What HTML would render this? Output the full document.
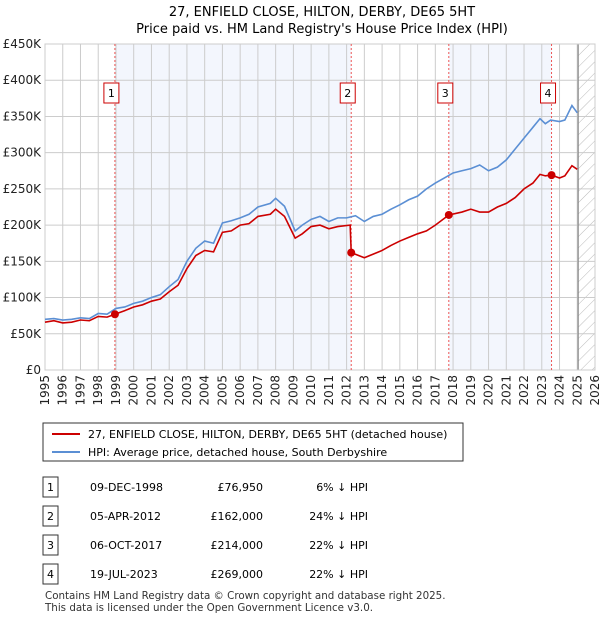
<!DOCTYPE html>
<html><head><meta charset="utf-8"><style>
body{margin:0;background:#fff;font-family:"Liberation Sans","DejaVu Sans",sans-serif;}
svg text{font-family:"DejaVu Sans","Liberation Sans",sans-serif;}
</style></head><body>
<svg width="600" height="620" xmlns="http://www.w3.org/2000/svg" id="chart">
<defs><pattern id="hatch" width="8" height="8" patternUnits="userSpaceOnUse" patternTransform="rotate(45)"><line x1="0" y1="0" x2="0" y2="8" stroke="#bbb" stroke-width="1"/></pattern></defs>
<text x="322" y="16" text-anchor="middle" font-size="13">27, ENFIELD CLOSE, HILTON, DERBY, DE65 5HT</text>
<text x="322" y="33" text-anchor="middle" font-size="13">Price paid vs. HM Land Registry's House Price Index (HPI)</text>
<g id="plot"></g>
<g>
<rect x="43" y="423" width="420" height="38" fill="#fff" stroke="#333" stroke-width="1"/>
<line x1="52" y1="434" x2="80" y2="434" stroke="#cc0000" stroke-width="2"/>
<text x="88" y="438" font-size="11">27, ENFIELD CLOSE, HILTON, DERBY, DE65 5HT (detached house)</text>
<line x1="52" y1="452" x2="80" y2="452" stroke="#5b8fd4" stroke-width="2"/>
<text x="88" y="456" font-size="11">HPI: Average price, detached house, South Derbyshire</text>
</g>
<g id="table" font-size="11"></g>
<text x="45" y="599" font-size="10.3" fill="#333">Contains HM Land Registry data © Crown copyright and database right 2025.</text>
<text x="45" y="611" font-size="10.3" fill="#333">This data is licensed under the Open Government Licence v3.0.</text>
</svg>
<script>
const hpiYears=[1995,1995.5,1996,1996.5,1997,1997.5,1998,1998.5,1999,1999.5,2000,2000.5,2001,2001.5,2002,2002.5,2003,2003.5,2004,2004.5,2005,2005.5,2006,2006.5,2007,2007.7,2008,2008.5,2009.1,2009.5,2010,2010.5,2011,2011.5,2012,2012.5,2013,2013.5,2014,2014.5,2015,2015.5,2016,2016.5,2017,2017.5,2018,2018.5,2019,2019.5,2020,2020.5,2021,2021.5,2022,2022.5,2022.9,2023.2,2023.5,2024,2024.3,2024.7,2025.0];
const hpiValues=[70,71,69,70,72,71,78,77,85,87,92,95,100,104,115,125,150,168,178,175,203,206,210,215,225,230,237,226,192,200,208,212,205,210,210,213,205,212,215,222,228,235,240,250,258,265,272,275,278,283,275,280,290,305,320,335,347,340,345,343,345,365,355];
const redYears=[1995,1995.5,1996,1996.5,1997,1997.5,1998,1998.5,1998.94,1999.5,2000,2000.5,2001,2001.5,2002,2002.5,2003,2003.5,2004,2004.5,2005,2005.5,2006,2006.5,2007,2007.7,2008,2008.5,2009.1,2009.5,2010,2010.5,2011,2011.5,2012.2,2012.26,2013,2013.5,2014,2014.5,2015,2015.5,2016,2016.5,2017,2017.76,2018.5,2019,2019.5,2020,2020.5,2021,2021.5,2022,2022.5,2022.9,2023.2,2023.55,2024,2024.3,2024.7,2025.0];
const redValues=[66,68,65,66,69,68,74,73,76.95,82,87,90,95,98,108,117,140,158,165,163,190,192,200,202,212,215,222,212,182,188,198,200,195,198,200,162,155,160,165,172,178,183,188,192,200,214,218,222,218,218,225,230,238,250,258,270,268,269,265,268,282,277];
const saleYears=[1998.94,2012.26,2017.76,2023.55];
const saleValues=[76.95,162,214,269];
const saleLabels=["1","2","3","4"];
const saleDates=["09-DEC-1998","05-APR-2012","06-OCT-2017","19-JUL-2023"];
const salePrices=["£76,950","£162,000","£214,000","£269,000"];
const saleDiffs=["6% ↓ HPI","24% ↓ HPI","22% ↓ HPI","22% ↓ HPI"];
const yTicks=[0,50,100,150,200,250,300,350,400,450];
const yTickLabels=["£0","£50K","£100K","£150K","£200K","£250K","£300K","£350K","£400K","£450K"];
const xTicks=[1995,1996,1997,1998,1999,2000,2001,2002,2003,2004,2005,2006,2007,2008,2009,2010,2011,2012,2013,2014,2015,2016,2017,2018,2019,2020,2021,2022,2023,2024,2025,2026];

const NS="http://www.w3.org/2000/svg";
const L=45,R=595,T=44,B=370;
const xs=y=>L+(y-1995)/(2026-1995)*(R-L);
const ys=v=>B-v/450*(B-T);
const plot=document.getElementById('plot');
function mk(tag,attrs,parent){const e=document.createElementNS(NS,tag);for(const k in attrs)e.setAttribute(k,attrs[k]);(parent||plot).appendChild(e);return e;}

let bg=mk('rect',{x:L,y:T,width:R-L,height:B-T,fill:'#fff'});


let s1=mk('rect',{x:xs(saleYears[0]),y:T,width:xs(saleYears[1])-xs(saleYears[0]),height:B-T,fill:'#f3f6fd'});


let s2=mk('rect',{x:xs(saleYears[2]),y:T,width:xs(saleYears[3])-xs(saleYears[2]),height:B-T,fill:'#f3f6fd'});


let h=mk('rect',{x:xs(2025.05),y:T,width:R-xs(2025.05),height:B-T,fill:'url(#hatch)'});



yTicks.forEach((v,i)=>{
  let g=mk('line',{x1:L,x2:R,y1:ys(v),y2:ys(v),stroke:'#ccc','stroke-width':1});
  
  
  let t=mk('text',{x:L-4,y:ys(v)+4,'text-anchor':'end','font-size':12,fill:'#222'});
  t.textContent=yTickLabels[i];
  
  
});
xTicks.forEach(yr=>{
  let g=mk('line',{x1:xs(yr),x2:xs(yr),y1:T,y2:B,stroke:'#ccc','stroke-width':1});
  
  
  let t=mk('text',{x:0,y:0,'text-anchor':'end','font-size':12,fill:'#222',transform:`translate(${xs(yr)+4},${B+5}) rotate(-90)`});
  t.textContent=yr;
  
  
});
let nowLine=mk('line',{x1:xs(2025.05),x2:xs(2025.05),y1:T,y2:B,stroke:'#888','stroke-width':1.2});


let fr=mk('rect',{x:L,y:T,width:R-L,height:B-T,fill:'none',stroke:'#ccc'});



saleYears.forEach((yr,i)=>{
  let l=mk('line',{x1:xs(yr),x2:xs(yr),y1:T,y2:B,stroke:'#ee5555','stroke-width':1,'stroke-dasharray':'2,2'});
  
  
  let b=mk('rect',{x:xs(yr)-11,y:83,width:15,height:20,fill:'#fff',stroke:'#cc0000','stroke-width':1});
  
  
  let t=mk('text',{x:xs(yr)-3.5,y:97,'text-anchor':'middle','font-size':11});
  t.textContent=saleLabels[i];
  
  
});

let hp=mk('polyline',{points:hpiYears.map((y,i)=>xs(y)+','+ys(hpiValues[i])).join(' '),fill:'none',stroke:'#5b8fd4','stroke-width':1.6});


let rp=mk('polyline',{points:redYears.map((y,i)=>xs(y)+','+ys(redValues[i])).join(' '),fill:'none',stroke:'#cc0000','stroke-width':1.6});


saleYears.forEach((yr,i)=>{
  let c=mk('circle',{cx:xs(yr),cy:ys(saleValues[i]),r:4,fill:'#cc0000'});
  
  
});

const tb=document.getElementById('table');
const rowY=[487,516,545,574];
saleLabels.forEach((lab,i)=>{
  const y=rowY[i];
  let b=mk('rect',{x:43,y:y-10,width:15,height:20,fill:'#fff',stroke:'#333'},tb);
  
  
  const cells=[[50.5,lab,'middle'],[90,saleDates[i],'start'],[263,salePrices[i],'end'],[368,saleDiffs[i],'end']];
  cells.forEach(c=>{
    let t=mk('text',{x:c[0],y:y+4,'text-anchor':c[2]},tb);
    t.textContent=c[1];
    
    
  });
});
</script>
</body></html>
